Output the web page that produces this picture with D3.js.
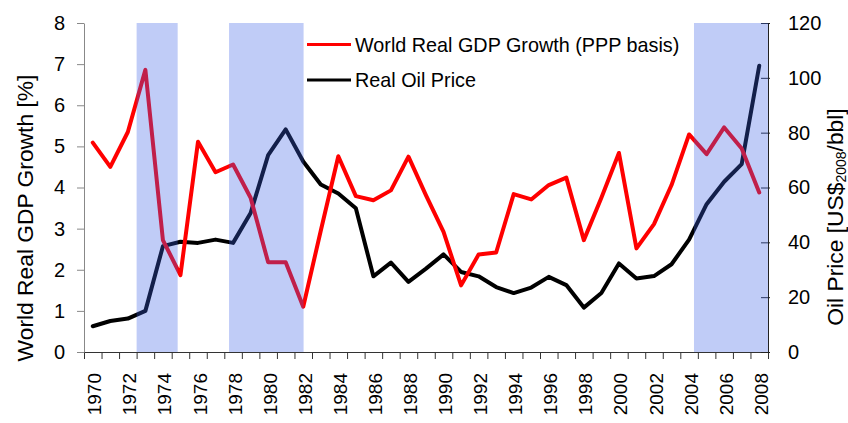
<!DOCTYPE html>
<html>
<head>
<meta charset="utf-8">
<script src="https://cdn.jsdelivr.net/npm/d3@7"></script>
<style>
  body { margin: 0; background: #fff; }
  svg text { font-family: Arial, "Liberation Sans", sans-serif; fill: #000; }
</style>
</head>
<body>
<div id="chart"></div>
<script>
// data
var years = d3.range(1970, 2009);
var gdpGrowth = [5.09, 4.50, 5.35, 6.86, 2.72, 1.87, 5.11, 4.37, 4.56, 3.75,
  2.18, 2.18, 1.10, 2.95, 4.76, 3.79, 3.69, 3.93, 4.75, 3.81,
  2.92, 1.62, 2.37, 2.42, 3.84, 3.71, 4.06, 4.24, 2.72, 3.75,
  4.84, 2.52, 3.11, 4.06, 5.29, 4.81, 5.46, 4.95, 3.88];
var oilPrice = [9.4, 11.3, 12.2, 15.0, 38.6, 40.2, 39.8, 41.0, 39.8, 50.7,
  71.8, 81.2, 69.5, 61.1, 57.8, 52.4, 27.6, 32.6, 25.6, 30.4,
  35.6, 29.2, 27.6, 23.7, 21.5, 23.5, 27.4, 24.4, 16.2, 21.5,
  32.3, 26.8, 27.7, 32.0, 41.0, 53.9, 62.1, 68.5, 104.4];
// shaded periods, in years from 1970 (category edges)
var bandStart = [3.0, 8.27, 34.78];
var bandEnd = [5.34, 12.52, 39.0];
var leftTicks = [0, 1, 2, 3, 4, 5, 6, 7, 8];
var rightTicks = [0, 20, 40, 60, 80, 100, 120];
var labelYears = years.filter(function (d) { return d % 2 === 0; });

var W = 848, H = 423;
var plotLeft = 84, plotRight = 768, plotTop = 23, plotBottom = 352;

var svg = d3.select("#chart").append("svg")
  .attr("width", W).attr("height", H);

var x = d3.scaleBand().domain(years).range([plotLeft, plotRight]).padding(0);
var xe = d3.scaleLinear().domain([0, years.length]).range([plotLeft, plotRight]);
var yL = d3.scaleLinear().domain([0, 8]).range([plotBottom, plotTop]);
var yR = d3.scaleLinear().domain([0, 120]).range([plotBottom, plotTop]);

// x axis, ticks between categories
var xAxis = svg.append("g")
  .attr("transform", "translate(0," + plotBottom + ")")
  .call(d3.axisBottom(xe).tickValues(d3.range(0, years.length + 1)).tickFormat("").tickSize(7));
xAxis.select(".domain").attr("stroke", "#333");
xAxis.selectAll(".tick line").attr("stroke", "#333");

svg.append("g").selectAll("text")
  .data(labelYears)
  .enter().append("text")
  .attr("transform", function (d) {
    return "translate(" + (x(d) + x.bandwidth() / 2 + 8.5) + ",373) rotate(-90)";
  })
  .attr("text-anchor", "end")
  .attr("font-size", "19px")
  .text(function (d) { return d; });

// left axis
var gl = svg.append("g")
  .attr("transform", "translate(" + plotLeft + ",0)")
  .call(d3.axisLeft(yL).tickValues(leftTicks).tickSize(7).tickSizeOuter(0).tickPadding(12));
gl.select(".domain").attr("stroke", "#888");
gl.selectAll(".tick line").attr("stroke", "#888");
gl.selectAll(".tick text").attr("font-size", "20px").attr("font-family", "Arial, 'Liberation Sans', sans-serif").attr("fill", "#000");

// right axis
var gr = svg.append("g")
  .attr("transform", "translate(" + plotRight + ",0)")
  .call(d3.axisRight(yR).tickValues(rightTicks).tickSize(2).tickSizeOuter(0).tickPadding(18));
gr.select(".domain").attr("stroke", "#222");
gr.selectAll(".tick line").attr("stroke", "#222").attr("x1", -7);
gr.selectAll(".tick text").attr("font-size", "20px").attr("font-family", "Arial, 'Liberation Sans', sans-serif").attr("fill", "#000");

// lines
var gdpLine = d3.line()
  .x(function (d, i) { return x(years[i]) + x.bandwidth() / 2; })
  .y(function (d) { return yL(d); });
var oilLine = d3.line()
  .x(function (d, i) { return x(years[i]) + x.bandwidth() / 2; })
  .y(function (d) { return yR(d); });

svg.append("path").datum(oilPrice)
  .attr("d", oilLine)
  .attr("fill", "none").attr("stroke", "#000").attr("stroke-width", 4)
  .attr("stroke-linejoin", "round").attr("stroke-linecap", "round");

svg.append("path").datum(gdpGrowth)
  .attr("d", gdpLine)
  .attr("fill", "none").attr("stroke", "#ff0000").attr("stroke-width", 4)
  .attr("stroke-linejoin", "round").attr("stroke-linecap", "round");

// shaded periods drawn on top
svg.append("g").selectAll("rect")
  .data(bandStart)
  .enter().append("rect")
  .attr("x", function (d) { return xe(d); })
  .attr("y", plotTop)
  .attr("width", function (d, i) { return xe(bandEnd[i]) - xe(d); })
  .attr("height", plotBottom - plotTop)
  .attr("fill", "rgb(60,95,230)")
  .attr("fill-opacity", 0.32);

// legend
var legend = svg.append("g");
var legendItems = [
  { name: "World Real GDP Growth (PPP basis)", color: "#ff0000", y: 44.5 },
  { name: "Real Oil Price", color: "#000", y: 80 }
];
legend.selectAll("line")
  .data(legendItems)
  .enter().append("line")
  .attr("x1", 307).attr("x2", 351)
  .attr("y1", function (d) { return d.y; }).attr("y2", function (d) { return d.y; })
  .attr("stroke", function (d) { return d.color; })
  .attr("stroke-width", 3);
legend.selectAll("text")
  .data(legendItems)
  .enter().append("text")
  .attr("x", 355)
  .attr("y", function (d) { return d.y + 7; })
  .attr("font-size", "19.8px")
  .text(function (d) { return d.name; });

// axis titles
svg.append("text")
  .attr("transform", "translate(33,218) rotate(-90)")
  .attr("text-anchor", "middle")
  .attr("font-size", "22.8px")
  .text("World Real GDP Growth [%]");

var rt = svg.append("text")
  .attr("transform", "translate(843,217) rotate(-90)")
  .attr("text-anchor", "middle")
  .attr("font-size", "22.8px");
rt.append("tspan").text("Oil Price [US$");
rt.append("tspan").attr("font-size", "14px").attr("dy", 3).text("2008");
rt.append("tspan").attr("dy", -3).text("/bbl]");
</script>
</body>
</html>
